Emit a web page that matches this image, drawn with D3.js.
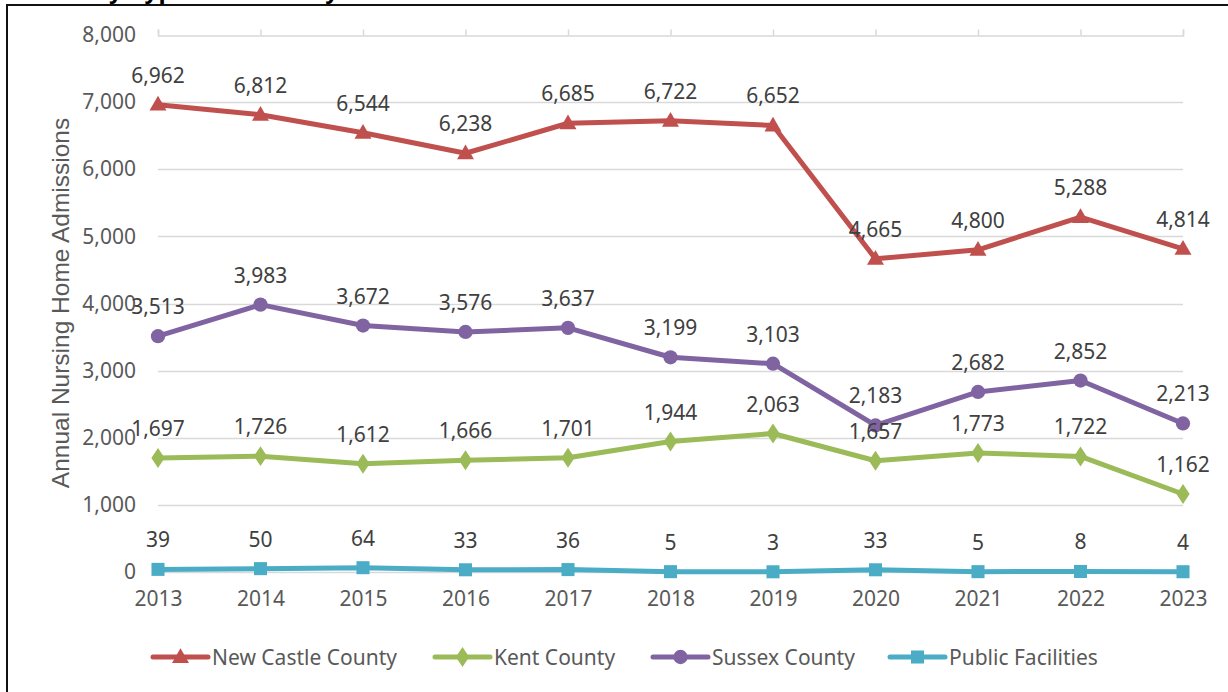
<!DOCTYPE html>
<html>
<head>
<meta charset="utf-8">
<script src="https://cdn.jsdelivr.net/npm/d3@7"></script>
<style>
  html, body { margin: 0; padding: 0; background: #fff; }
  svg { display: block; }
</style>
</head>
<body>
<script>
const years = ["2013","2014","2015","2016","2017","2018","2019","2020","2021","2022","2023"];
const newCastle = [6962, 6812, 6544, 6238, 6685, 6722, 6652, 4665, 4800, 5288, 4814];
const kent = [1697, 1726, 1612, 1666, 1701, 1944, 2063, 1657, 1773, 1722, 1162];
const sussex = [3513, 3983, 3672, 3576, 3637, 3199, 3103, 2183, 2682, 2852, 2213];
const publicFac = [39, 50, 64, 33, 36, 5, 3, 33, 5, 8, 4];
const yTicks = [0, 1000, 2000, 3000, 4000, 5000, 6000, 7000, 8000];
const seriesNames = ["New Castle County", "Kent County", "Sussex County", "Public Facilities"];
const titleText = "Admissions by Type and County";
const yTitle = "Annual Nursing Home Admissions";

const series = [
  { name: seriesNames[0], values: newCastle, color: "#c0504d", marker: "triangle" },
  { name: seriesNames[1], values: kent, color: "#9bbb59", marker: "diamond" },
  { name: seriesNames[2], values: sussex, color: "#8064a2", marker: "circle" },
  { name: seriesNames[3], values: publicFac, color: "#4bacc6", marker: "square" }
];

const W = 1228, H = 692;
const svg = d3.select("body").append("svg").attr("width", W).attr("height", H);

const numFont = "'Noto Sans', 'Open Sans', sans-serif";
const fs = 21;

// frame
svg.append("rect").attr("x", 7).attr("y", 5).attr("width", W + 20).attr("height", H + 20)
  .attr("fill", "none").attr("stroke", "#111").attr("stroke-width", 2);

// title (cut off at the top edge, as in the reference)
svg.append("text").attr("x", -62).attr("y", -1)
  .attr("font-family", "'Liberation Sans', Arial, sans-serif").attr("font-weight", "bold")
  .attr("font-size", 26).attr("fill", "#000").text(titleText);

const x = d3.scalePoint().domain(years).range([158, 1183]);
const y = d3.scaleLinear().domain([0, 8000]).range([572, 35]);

// gridlines
svg.append("g").selectAll("line").data(yTicks.filter(t => t < 8000)).join("line")
  .attr("x1", 158).attr("x2", 1183)
  .attr("y1", d => Math.round(y(d)) + 0.5).attr("y2", d => Math.round(y(d)) + 0.5)
  .attr("stroke", "#d9d9d9").attr("stroke-width", 1.5);

// category axis line at top (crosses at max)
const xAxis = d3.axisTop(x).tickSize(6).tickFormat("");
const gx = svg.append("g").attr("transform", `translate(0,${Math.round(y(8000)) + 0.5})`).call(xAxis);
gx.select(".domain").attr("stroke", "#d9d9d9").attr("stroke-width", 1.5);
gx.selectAll(".tick line").attr("stroke", "#d9d9d9").attr("stroke-width", 1.5);

// year labels at bottom
const xLab = d3.axisBottom(x).tickSize(0).tickPadding(0);
const gxl = svg.append("g").attr("transform", "translate(0,591)").call(xLab);
gxl.select(".domain").remove();
gxl.selectAll("text").attr("font-family", numFont).attr("font-size", fs).attr("fill", "#595959");

// y axis labels
const yAxis = d3.axisLeft(y).tickValues(yTicks).tickSize(0).tickPadding(0).tickFormat(d3.format(","));
const gy = svg.append("g").attr("transform", "translate(136,0)").call(yAxis);
gy.select(".domain").remove();
gy.selectAll("text").attr("font-family", numFont).attr("font-size", fs).attr("fill", "#595959");

// y title
svg.append("text").attr("transform", "translate(60,303) rotate(-90)")
  .attr("text-anchor", "middle").attr("dominant-baseline", "central")
  .attr("font-family", "'Liberation Sans Narrow', 'Liberation Sans', sans-serif")
  .attr("font-size", 24.5).attr("fill", "#595959").text(yTitle);

function markerPath(type) {
  const s = {
    triangle: d3.symbol(d3.symbolTriangle, 125),
    diamond: d3.symbol(d3.symbolDiamond, 115),
    circle: d3.symbol(d3.symbolCircle, 160),
    square: d3.symbol(d3.symbolSquare, 170)
  }[type];
  return s();
}

const line = d3.line().x((d, i) => x(years[i])).y(d => y(d));

const drawOrder = [series[3], series[1], series[2], series[0]];
drawOrder.forEach(s => {
  const g = svg.append("g");
  g.append("path").attr("d", line(s.values)).attr("fill", "none")
    .attr("stroke", s.color).attr("stroke-width", 5).attr("stroke-linejoin", "round").attr("stroke-linecap", "round");
  g.selectAll("path.m").data(s.values).join("path").attr("class", "m")
    .attr("d", markerPath(s.marker))
    .attr("transform", (d, i) => `translate(${x(years[i])},${y(d) + (s.marker === "triangle" ? 1 : 0)})${s.marker === "diamond" ? " scale(1.15,1)" : ""}`)
    .attr("fill", s.color);
});

// data labels
series.forEach(s => {
  svg.append("g").selectAll("text").data(s.values).join("text")
    .attr("x", (d, i) => x(years[i])).attr("y", d => y(d) - 30)
    .attr("text-anchor", "middle").attr("dominant-baseline", "central")
    .attr("font-family", numFont).attr("font-size", fs).attr("fill", "#404040")
    .text(d => d3.format(",")(d));
});

// legend
const legX = [153, 435, 653, 890];
const legY = 657;
series.forEach((s, i) => {
  const g = svg.append("g").attr("transform", `translate(${legX[i]},${legY})`);
  g.append("line").attr("x1", 0).attr("x2", 55).attr("y1", 0).attr("y2", 0)
    .attr("stroke", s.color).attr("stroke-width", 5).attr("stroke-linecap", "round");
  g.append("path").attr("d", markerPath(s.marker))
    .attr("transform", `translate(27.5,${s.marker === "triangle" ? 1 : 0})${s.marker === "diamond" ? " scale(1.15,1)" : ""}`)
    .attr("fill", s.color);
  g.append("text").attr("x", 59).attr("y", 0).attr("dominant-baseline", "central")
    .attr("font-family", numFont).attr("font-size", fs).attr("fill", "#595959").text(s.name);
});
</script>
</body>
</html>
